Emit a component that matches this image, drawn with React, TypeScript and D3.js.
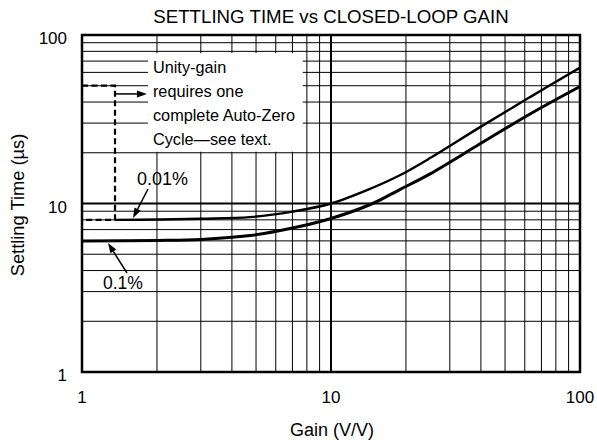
import React from "react";
import * as d3 from "d3";

const W = 597;
const H = 440;

const title = "SETTLING TIME vs CLOSED-LOOP GAIN";
const xLabel = "Gain (V/V)";
const yLabel = "Settling Time (µs)";

const xTicks = [1, 10, 100];
const yTicks = [1, 10, 100];
const tickLabels = ["1", "10", "100"];

// 0.01% settling curve
const gain001 = [1.36, 2, 3, 4.73, 7, 10, 14.7, 18.9, 25, 39.7, 63, 100];
const time001 = [8.0, 8.03, 8.12, 8.3, 8.95, 10.0, 12.4, 14.7, 18.6, 28.4, 42.8, 64];

// 0.1% settling curve
const gain01 = [1, 2, 3, 4.73, 7, 10, 14.7, 18.9, 25, 39.7, 63, 100];
const time01 = [6.0, 6.04, 6.12, 6.45, 7.15, 8.15, 10.0, 12.1, 15.0, 22.6, 34.0, 49.5];

// unity-gain dashed step (gain, time)
const dashGain = [1, 1.357, 1.357, 1];
const dashTime = [50, 50, 8.0, 8.0];

const noteLines = ["Unity-gain", "requires one", "complete Auto-Zero", "Cycle—see text."];

const FONT = "'Liberation Sans', Arial, Helvetica, sans-serif";

export default function App() {
  const x = d3.scaleLog().domain([1, 100]).range([82, 580]);
  const y = d3.scaleLog().domain([1, 100]).range([372, 35]);

  const minor: number[] = [];
  [1, 10].forEach((d) => {
    for (let m = 2; m <= 9; m++) minor.push(d * m);
  });

  const line = d3
    .line<[number, number]>()
    .x((d) => x(d[0]))
    .y((d) => y(d[1]))
    .curve(d3.curveCatmullRom.alpha(0.5));

  const pts001 = gain001.map((g, i) => [g, time001[i]] as [number, number]);
  const pts01 = gain01.map((g, i) => [g, time01[i]] as [number, number]);
  const dashPts = dashGain.map((g, i) => [g, dashTime[i]] as [number, number]);
  const dashLine = d3
    .line<[number, number]>()
    .x((d) => x(d[0]))
    .y((d) => y(d[1]));

  const [x0, x1] = x.range();
  const [yb, yt] = y.range();

  // annotation box (white background behind text)
  const boxX0 = x(1.84);
  const boxX1 = x(7.7);
  const boxY0 = y(78);
  const boxY1 = y(20.3);

  const arrow = (fx: number, fy: number, tx: number, ty: number, key: string) => {
    const ang = Math.atan2(ty - fy, tx - fx);
    const L = 10;
    const Wd = 3.5;
    const bx = tx - L * Math.cos(ang);
    const by = ty - L * Math.sin(ang);
    const px = -Math.sin(ang) * Wd;
    const py = Math.cos(ang) * Wd;
    return (
      <g key={key}>
        <line x1={fx} y1={fy} x2={bx} y2={by} stroke="#000" strokeWidth={1.5} />
        <polygon points={`${tx},${ty} ${bx + px},${by + py} ${bx - px},${by - py}`} fill="#000" />
      </g>
    );
  };

  return (
    <svg
      width={W}
      height={H}
      style={{ position: "absolute", left: 0, top: 0, background: "#fff" }}
      fontFamily={FONT}
    >
      <rect x={0} y={0} width={W} height={H} fill="#fff" />
      <text x={331} y={23} fontSize={18.7} textAnchor="middle" fill="#000">
        {title}
      </text>

      {/* minor grid */}
      {minor.map((v) => (
        <line key={"vx" + v} x1={x(v)} x2={x(v)} y1={yb} y2={yt} stroke="#000" strokeWidth={1} />
      ))}
      {minor.map((v) => (
        <line key={"hy" + v} x1={x0} x2={x1} y1={y(v)} y2={y(v)} stroke="#000" strokeWidth={1} />
      ))}
      {/* major grid */}
      <line x1={x(10)} x2={x(10)} y1={yb} y2={yt} stroke="#000" strokeWidth={2} />
      <line x1={x0} x2={x1} y1={y(10)} y2={y(10)} stroke="#000" strokeWidth={2} />

      {/* annotation background */}
      <rect x={boxX0} y={boxY0} width={boxX1 - boxX0} height={boxY1 - boxY0} fill="#fff" />
      {noteLines.map((t, i) => (
        <text key={t} x={boxX0 + 5} y={73 + i * 24} fontSize={16.3} fill="#000">
          {t}
        </text>
      ))}

      {/* dashed unity-gain step */}
      <path d={dashLine(dashPts) || ""} fill="none" stroke="#000" strokeWidth={2.2} strokeDasharray="6,3.5" />
      {arrow(x(1.357), y(44.7), x(1.84) - 1, y(44.7), "ua")}

      {/* curves */}
      <path d={line(pts001) || ""} fill="none" stroke="#000" strokeWidth={2.4} />
      <path d={line(pts01) || ""} fill="none" stroke="#000" strokeWidth={3} />

      {/* curve labels */}
      <text x={137} y={185} fontSize={18} fill="#000">0.01%</text>
      {arrow(148, 189, 133, 218, "a1")}
      <text x={103} y={289} fontSize={17.5} fill="#000">0.1%</text>
      {arrow(127, 273, 108, 243, "a2")}

      {/* frame */}
      <rect x={x0} y={yt} width={x1 - x0} height={yb - yt} fill="none" stroke="#000" strokeWidth={2.5} />

      {/* tick labels */}
      {yTicks.map((v, i) => (
        <text key={"yt" + v} x={67} y={y(v) + 9} fontSize={17} textAnchor="end" fill="#000">
          {tickLabels[i]}
        </text>
      ))}
      {xTicks.map((v, i) => (
        <text key={"xt" + v} x={x(v)} y={yb + 31} fontSize={17} textAnchor="middle" fill="#000">
          {tickLabels[i]}
        </text>
      ))}

      <text x={332} y={436} fontSize={18} textAnchor="middle" fill="#000">
        {xLabel}
      </text>
      <text
        transform={`translate(23.5, 205) rotate(-90)`}
        fontSize={18.3}
        textAnchor="middle"
        fill="#000"
      >
        {yLabel}
      </text>
    </svg>
  );
}
